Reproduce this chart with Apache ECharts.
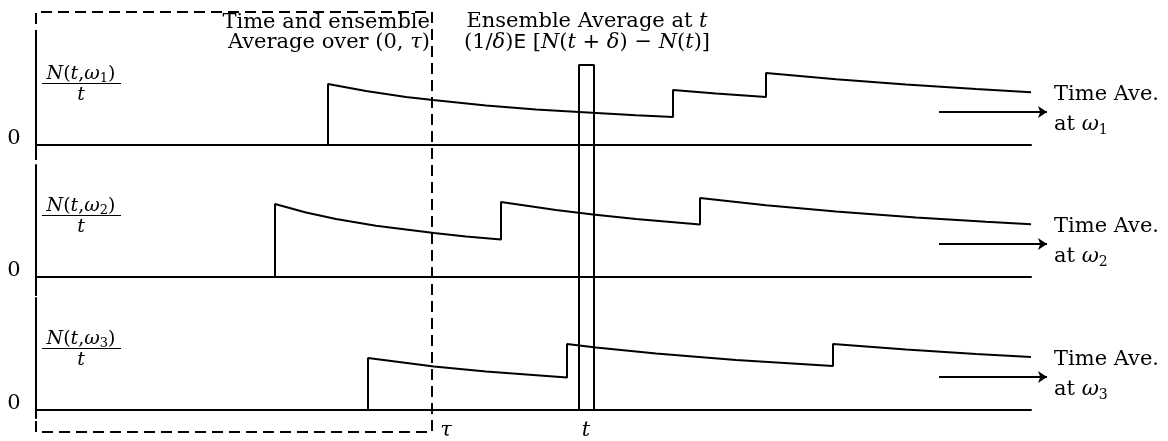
<!DOCTYPE html>
<html><head><meta charset="utf-8">
<script src="https://cdn.jsdelivr.net/npm/echarts@6/dist/echarts.min.js"></script>
<style>html,body{margin:0;padding:0;background:#fff}#c{width:1168px;height:441px}</style>
</head><body><div id="c"></div>
<script>
// ---- data (x: time units, y: height of N(t,w)/t above 0) ----
const omegaSubs = ['1', '2', '3'];
const path1 = [[0,0],[292,0],[292,61],[330,54],[370,48],[397,45],[450,39.5],[500,35.5],[543,33],[600,29.7],[637,28],[637,55],[680,51.5],[730,48],[730,72],[800,65.7],[870,60.4],[940,56],[995,52.8]];
const path2 = [[0,0],[239,0],[239,73],[270,64.5],[300,58],[340,51.3],[398,44],[430,40.6],[465,37.5],[465,75],[520,67],[557,62.6],[600,58],[664,52.5],[664,79],[730,71.8],[800,65.5],[880,59.6],[950,55.2],[995,52.7]];
const path3 = [[0,0],[332,0],[332,52],[398,43.5],[450,38.4],[531,32.5],[531,66],[560,62.6],[620,56.5],[700,50],[797,44],[797,66],[870,60.4],[940,56],[995,52.9]];
const paths = [path1, path2, path3];
const tau = 396;            // end of averaging interval
const tWindow = [543, 558]; // (t, t+delta)
const arrowStart = 903, arrowEnd = 1011;

const FONT = 'DejaVu Serif';
const FS = 21;
const K = '#000';
const LW = 2;
const rich = {
  r: {fontFamily: FONT, fontSize: FS, lineHeight: 24, fill: K},
  i: {fontFamily: FONT, fontSize: FS, fontStyle: 'italic', lineHeight: 24, fill: K},
  sf: {fontFamily: 'DejaVu Sans', fontSize: FS - 1, lineHeight: 24, fill: K},
  s: {fontFamily: FONT, fontSize: 14, lineHeight: 14, verticalAlign: 'bottom', fill: K}
};
const frich = {
  r: {fontFamily: FONT, fontSize: 19, lineHeight: 22, fill: K},
  i: {fontFamily: FONT, fontSize: 19, fontStyle: 'italic', lineHeight: 22, fill: K},
  s: {fontFamily: FONT, fontSize: 13, lineHeight: 13, verticalAlign: 'bottom', fill: K}
};
function txt(x, y, text, align, rs) {
  return {type: 'text', x: x, y: y, z: 10, style: {text: text, rich: rs || rich, align: align || 'left', verticalAlign: 'middle'}};
}

const panelTop = [32, 165, 298];
const panelMin = [-7, -8, -8];
const panelMax = [113, 112, 112];
const baseY = [145, 277, 410];

const grids = [], xAxes = [], yAxes = [], series = [], graphics = [];
const axLine = {show: true, onZero: true, lineStyle: {color: K, width: LW}};
for (let p = 0; p < 3; p++) {
  grids.push({left: 36, top: panelTop[p], width: 995, height: 120});
  xAxes.push({type: 'value', gridIndex: p, min: 0, max: 995, axisLine: axLine, axisTick: {show: false}, axisLabel: {show: false}, splitLine: {show: false}});
  yAxes.push({type: 'value', gridIndex: p, min: panelMin[p], max: panelMax[p], axisLine: axLine, axisTick: {show: false}, axisLabel: {show: false}, splitLine: {show: false}});
  series.push({type: 'line', xAxisIndex: p, yAxisIndex: p, data: paths[p], symbol: 'none', lineStyle: {color: K, width: LW}, z: 3});
  const b = baseY[p];
  graphics.push(txt(14, b - 6, '{r|0}', 'center'));
  graphics.push(txt(81, b - 71, '{i|N}{r|(}{i|t}{r|,}{i|ω}{s|' + omegaSubs[p] + '}{r|)}', 'center', frich));
  graphics.push({type: 'line', z: 10, shape: {x1: 42, y1: b - 61.5, x2: 121, y2: b - 61.5}, style: {stroke: K, lineWidth: 1.2}});
  graphics.push(txt(81, b - 50, '{i|t}', 'center', frich));
  graphics.push(txt(1054, b - 50, '{r|Time Ave.}', 'left'));
  graphics.push(txt(1054, b - 20, '{r|at }{i|ω}{s|' + omegaSubs[p] + '}', 'left'));
}
// overlay grid spanning the whole figure (1 unit = 1 px, origin at bottom-left of dashed box)
grids.push({left: 36, top: 12, width: 1132, height: 420});
xAxes.push({type: 'value', gridIndex: 3, min: 0, max: 1132, show: false});
yAxes.push({type: 'value', gridIndex: 3, min: 0, max: 420, show: false});
series.push({type: 'line', xAxisIndex: 3, yAxisIndex: 3, symbol: 'none', data: [[0,0],[0,420],[tau,420],[tau,0],[0,0]], lineStyle: {color: K, width: LW, type: [11, 6]}, z: 2});
series.push({type: 'line', xAxisIndex: 3, yAxisIndex: 3, symbol: 'none', data: [[tWindow[0],22],[tWindow[0],367],[tWindow[1],367],[tWindow[1],22]], lineStyle: {color: K, width: LW}, z: 4});
series.push({type: 'lines', coordinateSystem: 'cartesian2d', xAxisIndex: 3, yAxisIndex: 3, symbol: ['none', 'arrow'], symbolSize: 9,
  lineStyle: {color: K, width: LW, opacity: 1, curveness: 0},
  data: [{coords: [[arrowStart,320],[arrowEnd,320]]}, {coords: [[arrowStart,188],[arrowEnd,188]]}, {coords: [[arrowStart,55],[arrowEnd,55]]}], z: 4});

graphics.push(txt(430, 23, '{r|Time and ensemble}', 'right'));
graphics.push(txt(430, 43, '{r|Average over (0, }{i|τ}{r|)}', 'right'));
graphics.push(txt(587, 22, '{r|Ensemble Average at }{i|t}', 'center'));
graphics.push(txt(587, 43, '{r|(1/}{i|δ}{r|)}{sf|E}{r| [}{i|N}{r|(}{i|t}{r| + }{i|δ}{r|) − }{i|N}{r|(}{i|t}{r|)]}', 'center'));
graphics.push(txt(446, 431, '{i|τ}', 'center'));
graphics.push(txt(586, 431, '{i|t}', 'center'));

const chart = echarts.init(document.getElementById('c'), null, {renderer: 'canvas'});
chart.setOption({
  animation: false,
  backgroundColor: '#fff',
  grid: grids, xAxis: xAxes, yAxis: yAxes, series: series, graphic: graphics
});
</script></body></html>
